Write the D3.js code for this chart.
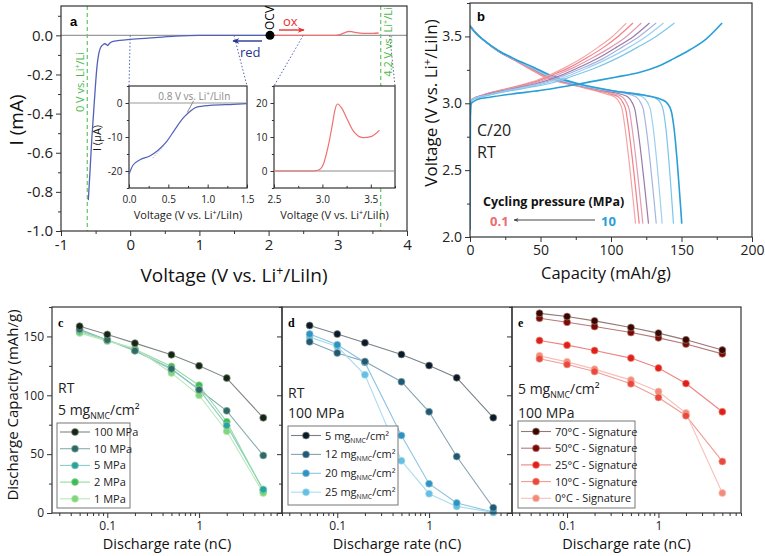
<!DOCTYPE html>
<html><head><meta charset="utf-8">
<script src="https://cdn.jsdelivr.net/npm/d3@7"></script>
<style>body{margin:0;background:#fff} svg{display:block}</style>
</head><body><svg id="fig" width="765" height="556"></svg>
<script>
// ---------------- DATA ----------------
// Panel a: main CV (V vs Li+/LiIn, mA)
const cvReduction = [[-0.605,-0.842],[-0.58,-0.69],[-0.555,-0.53],[-0.53,-0.4],[-0.505,-0.27],[-0.48,-0.16],[-0.455,-0.095],[-0.43,-0.064],[-0.40,-0.05],[-0.37,-0.043],[-0.345,-0.046],[-0.325,-0.052],[-0.30,-0.042],[-0.26,-0.032],[-0.15,-0.026],[0,-0.021],[0.36,-0.012],[0.65,-0.004],[0.85,-0.001],[1.0,0],[2.02,0]];
const cvOxidation = [[2.02,0],[2.9,0],[2.96,0.0003],[3.01,0.002],[3.06,0.0073],[3.1,0.0132],[3.13,0.018],[3.155,0.0197],[3.2,0.0185],[3.25,0.0156],[3.32,0.0117],[3.42,0.0098],[3.51,0.0102],[3.59,0.012]];
const ocvVoltage = 2.02;
const liRefLines = [-0.62, 3.62];
// Panel a insets (µA)
const insetReduction = [[0,-21],[0.05,-18.3],[0.14,-16.7],[0.27,-15.5],[0.37,-13.9],[0.48,-11.3],[0.58,-7.9],[0.69,-4.4],[0.775,-2.5],[0.86,-1.2],[1.03,-0.7],[1.33,-0.4],[1.5,-0.2]];
const insetOxidation = [[2.5,0],[2.9,0],[2.96,0.3],[3.01,2],[3.06,7.3],[3.1,13.2],[3.13,18],[3.155,19.7],[3.2,18.5],[3.25,15.6],[3.32,11.7],[3.42,9.8],[3.51,10.2],[3.59,12.0]];

// Panel b: charge / discharge curves (mAh/g, V), 0.1 MPa -> 10 MPa
const bColors = ["#f6a5a7","#f08186","#e49cb2","#9c7aa8","#a8b4e0","#9dd0ef","#7cc6ec","#2a9ed6"];
const dischargeCurves = [
 [[0,3.585],[4,3.53],[10,3.47],[20,3.39],[32,3.32],[45,3.24],[55,3.185],[67,3.15],[79,3.12],[90,3.09],[98,3.065],[103,3.045],[106,3.005],[108,2.95],[109.5,2.85],[117.4,2.1]],
 [[0,3.585],[4,3.53],[10,3.47],[20,3.39],[32,3.32],[45,3.245],[55,3.19],[67,3.153],[79,3.123],[91,3.093],[100.5,3.067],[105.5,3.046],[108.5,3.005],[110.5,2.95],[112,2.85],[120,2.1]],
 [[0,3.585],[4,3.53],[10,3.47],[20,3.39],[32,3.323],[45,3.25],[55,3.195],[67,3.156],[79,3.126],[93,3.094],[103,3.068],[108,3.047],[111,3.005],[113,2.95],[114.5,2.85],[122.6,2.1]],
 [[0,3.583],[4,3.528],[10,3.47],[20,3.391],[32,3.324],[45,3.255],[55,3.2],[67,3.16],[79,3.129],[95,3.095],[107,3.068],[112,3.047],[115,3.005],[117,2.95],[118.5,2.85],[126.6,2.1]],
 [[0,3.582],[4,3.527],[10,3.47],[20,3.392],[32,3.326],[45,3.258],[55,3.205],[67,3.163],[79,3.131],[98,3.095],[113,3.066],[118,3.046],[121,3.005],[123,2.95],[124.5,2.85],[132.1,2.1]],
 [[0,3.58],[4,3.526],[10,3.47],[20,3.393],[32,3.327],[45,3.262],[55,3.21],[67,3.167],[79,3.134],[100,3.095],[118,3.063],[123,3.044],[126,3.005],[128,2.95],[129.5,2.85],[136.3,2.1]],
 [[0,3.578],[4,3.525],[10,3.47],[20,3.394],[32,3.329],[45,3.266],[55,3.215],[67,3.171],[79,3.137],[102,3.093],[125,3.06],[131,3.042],[135,3.005],[137,2.95],[138.5,2.85],[144.3,2.1]],
 [[0,3.575],[4,3.525],[10,3.47],[20,3.395],[32,3.33],[45,3.27],[55,3.22],[67,3.175],[79,3.14],[103,3.09],[126,3.055],[134,3.035],[139,3.01],[141.5,2.975],[143,2.93],[144.5,2.83],[150.2,2.1]]
];
const chargeCurves = [
 [[0,2.98],[1.5,3.03],[10,3.065],[20,3.095],[32,3.125],[44,3.16],[56,3.21],[67,3.265],[79,3.335],[91,3.42],[101,3.5],[110.8,3.6]],
 [[0,2.98],[1.5,3.03],[10,3.065],[21,3.095],[33,3.125],[46,3.16],[58,3.21],[70,3.265],[82,3.335],[95,3.42],[105,3.5],[115.6,3.6]],
 [[0,2.98],[1.5,3.03],[11,3.065],[22,3.095],[35,3.125],[48,3.16],[61,3.21],[73,3.265],[86,3.335],[100,3.42],[111,3.5],[121.5,3.6]],
 [[0,2.98],[1.5,3.03],[11,3.063],[23,3.093],[37,3.123],[51,3.158],[64,3.207],[76,3.262],[90,3.333],[104,3.42],[116,3.5],[127.3,3.6]],
 [[0,2.98],[1.5,3.03],[12,3.062],[24,3.092],[38,3.122],[53,3.157],[66,3.205],[79,3.26],[94,3.332],[108,3.42],[120,3.5],[132,3.6]],
 [[0,2.98],[1.5,3.028],[12,3.06],[25,3.09],[40,3.12],[55,3.155],[69,3.202],[82,3.258],[97,3.33],[113,3.42],[125,3.5],[137.3,3.6]],
 [[0,2.98],[1.5,3.025],[13,3.058],[26,3.088],[42,3.118],[58,3.152],[72,3.2],[87,3.256],[103,3.33],[119,3.42],[132,3.5],[145,3.6]],
 [[0,2.05],[0.3,2.9],[1,3.0],[5,3.028],[14,3.045],[30,3.07],[49.5,3.095],[67,3.125],[85,3.16],[103,3.195],[120,3.23],[133,3.275],[143.8,3.33],[156,3.4],[167.4,3.48],[178.8,3.6]]
];

// Panels c-e: discharge capacity vs rate
const rates = [0.05, 0.1, 0.2, 0.5, 1, 2, 5];
const cNames = ["100 MPa","10 MPa","5 MPa","2 MPa","1 MPa"];
const cColors = ["#14261c","#2c6a6a","#2aa3a0","#3dbb5a","#7fd67f"];
const c100 = [158.7,151.7,144.3,134.4,125,114.6,80.9];
const c10  = [156,147,137.8,122.5,104.7,86.8,48.9];
const c5   = [155,147,138,122,105,74.4,20];
const c2   = [154,147,139,124.5,108.5,77.5,19];
const c1   = [153,146,140,119,100,69.5,17];
const dLoadings = ["5","12","20","25"];
const dColors = ["#0a1a2a","#1f5878","#2c93c8","#62bfe8"];
const d5  = [159.3,152,144.6,134.7,125.3,114.9,81];
const d12 = [145.4,136,128.7,111.5,86,48,4.5];
const d20 = [152,142.9,127.9,65.9,24.9,8.5,0.8];
const d25 = [149.4,141.4,117.4,44.4,16.4,5.6,0.5];
const eNames = ["70°C - Signature","50°C - Signature","25°C - Signature","10°C - Signature","0°C - Signature"];
const eColors = ["#3a0505","#7a0a0a","#e01e1e","#e8483f","#f28a80"];
const e70 = [169.6,166.9,163.2,157.6,152.8,147.1,138.4];
const e50 = [165.5,162.1,158.4,153.3,148.8,143.5,135.2];
const e25 = [146.5,142.6,138,131.6,123.1,110,86];
const e10 = [131,126.2,120.2,109.8,98.1,82.6,43.8];
const e0  = [133.5,128.4,122.2,112.9,103.2,84.9,17];

// ---------------- DRAWING ----------------
const FONT = '"Open Sans", "Liberation Sans", Arial, sans-serif';
const AX = "#333";
const svg = d3.select("#fig").attr("font-family", FONT);
svg.append("rect").attr("width",765).attr("height",556).attr("fill","#fff");
const defs = svg.append("defs");
function arrowMarker(id, color){
  defs.append("marker").attr("id",id).attr("viewBox","0 0 10 10").attr("refX",9).attr("refY",5)
    .attr("markerWidth",5).attr("markerHeight",5).attr("orient","auto")
    .append("path").attr("d","M0,1L10,5L0,9L3,5z").attr("fill",color);
}
arrowMarker("arNavy","#2a3590"); arrowMarker("arRed","#e83030"); arrowMarker("arGray","#444");
let clipN = 0;
function clip(x0,y0,x1,y1){ const id="cp"+(clipN++); defs.append("clipPath").attr("id",id).append("rect").attr("x",x0).attr("y",y0).attr("width",x1-x0).attr("height",y1-y0); return "url(#"+id+")"; }

function axisG(gen, tx, ty, fs){
  const g = svg.append("g").attr("transform",`translate(${tx},${ty})`).call(gen);
  g.select(".domain").remove();
  g.selectAll("line").attr("stroke",AX).attr("stroke-width",1);
  g.selectAll("text").attr("font-size",fs).attr("font-family",FONT).attr("fill","#222");
  return g;
}
function addAxes(xs, ys, o){
  const [x0,x1] = xs.range(), [y0,y1] = ys.range(); // y0 bottom
  if(o.xMajor){
    axisG(d3.axisBottom(xs).tickValues(o.xMajor).tickSize(o.xIn? -o.tk : o.tk).tickPadding(o.xIn? o.tk+4 : 3).tickFormat(o.xFmt), 0, y0, o.fs);
    if(o.xMinor) axisG(d3.axisBottom(xs).tickValues(o.xMinor).tickSize(o.xIn? -o.tk*0.6 : o.tk*0.6).tickFormat(""), 0, y0, o.fs);
  }
  if(o.yMajor){
    axisG(d3.axisLeft(ys).tickValues(o.yMajor).tickSize(o.tk).tickPadding(3).tickFormat(o.yFmt), x0, 0, o.fs);
    if(o.yMinor) axisG(d3.axisLeft(ys).tickValues(o.yMinor).tickSize(o.tk*0.6).tickFormat(""), x0, 0, o.fs);
  }
}
function frame(x0,y0,x1,y1,fill){
  svg.append("rect").attr("x",x0).attr("y",y0).attr("width",x1-x0).attr("height",y1-y0)
    .attr("fill",fill||"none").attr("stroke",AX).attr("stroke-width",1.2);
}
function rot(x,y,txt,fs,color,weight){
  return svg.append("text").attr("transform",`translate(${x},${y}) rotate(-90)`).attr("text-anchor","middle")
    .attr("font-size",fs).attr("fill",color||"#111").attr("font-weight",weight||"normal");
}
function liText(t, pre, post, fs){
  t.append("tspan").text(pre);
  t.append("tspan").attr("font-size",fs*0.65).attr("dy",-fs*0.38).text("+");
  t.append("tspan").attr("dy",fs*0.38).text(post);
}
function fixMinus(){
  svg.selectAll("text").filter(function(){return this.textContent.startsWith("−");}).text(function(){return this.textContent.replace("−","-");});
}

// ===== Panel a =====
const ax = d3.scaleLinear().domain([-1,4]).range([61,407]);
const ay = d3.scaleLinear().domain([-1,0.15]).range([231,6]);
addAxes(ax, ay, {fs:15, tk:5,
  xMajor:[-1,0,1,2,3,4], xMinor:[-0.5,0.5,1.5,2.5,3.5], xFmt:d3.format("d"),
  yMajor:[-1,-0.8,-0.6,-0.4,-0.2,0], yMinor:[-0.9,-0.7,-0.5,-0.3,-0.1,0.1], yFmt:d=>d.toFixed(1)});
fixMinus();
const aClip = clip(61,6,407,231);
const ga = svg.append("g").attr("clip-path",aClip);
ga.append("line").attr("x1",ax(-1)).attr("x2",ax(4)).attr("y1",ay(0)).attr("y2",ay(0)).attr("stroke","#9a9a9a").attr("stroke-width",1.3);
liRefLines.forEach(v=>ga.append("line").attr("x1",ax(v)).attr("x2",ax(v)).attr("y1",ay(0.15)).attr("y2",ay(-1))
  .attr("stroke","#62c862").attr("stroke-width",1.2).attr("stroke-dasharray","4,3"));
const lineA = d3.line().x(d=>ax(d[0])).y(d=>ay(d[1])).curve(d3.curveMonotoneX);
ga.append("path").attr("d",lineA(cvReduction)).attr("fill","none").attr("stroke","#5361b8").attr("stroke-width",1.3);
ga.append("path").attr("d",lineA(cvOxidation)).attr("fill","none").attr("stroke","#f07070").attr("stroke-width",1.3);
frame(61,6,407,231);
svg.append("text").attr("x",70).attr("y",26).attr("font-size",13).attr("font-weight","bold").attr("font-family","Liberation Sans, Arial").text("a");
liText(rot(84, 82, "", 11, "#4cb84c"), "0 V vs. Li", "/Li", 11);
liText(rot(392, 42, "", 11, "#4cb84c"), "4.2 V vs. Li", "/Li", 11);

// insets
const lx = d3.scaleLinear().domain([0,1.5]).range([129,247]);
const ly = d3.scaleLinear().domain([-25,5]).range([188,86]);
const rx = d3.scaleLinear().domain([2.5,3.75]).range([274,395]);
const ry = d3.scaleLinear().domain([-5,25]).range([188,86]);
const conn = [[ax(0),ay(0),lx(0),ly(5),"#5361b8"],[ax(1.5),ay(0),lx(1.5),ly(5),"#5361b8"],[ax(2.5),ay(0),rx(2.5),ry(25),"#5361b8"],[ax(3.75),ay(0),rx(3.75),ry(25),"#666"]];
conn.forEach(c=>svg.append("line").attr("x1",c[0]).attr("y1",c[1]).attr("x2",c[2]).attr("y2",c[3]).attr("stroke",c[4]).attr("stroke-width",1).attr("stroke-dasharray","1.5,2"));
frame(129,86,247,188,"#fff");
frame(274,86,395,188,"#fff");
addAxes(lx, ly, {fs:10, tk:3.5, xIn:true, xMajor:[0,0.5,1,1.5], xMinor:[0.25,0.75,1.25], xFmt:d3.format(".1f"),
  yMajor:[-20,-10,0], yMinor:[-25,-15,-5,5], yFmt:d3.format("d")});
addAxes(rx, ry, {fs:10, tk:3.5, xIn:true, xMajor:[2.5,3,3.5], xMinor:[2.75,3.25,3.75], xFmt:d3.format(".1f"),
  yMajor:[0,10,20], yMinor:[-5,5,15,25], yFmt:d3.format("d")});
fixMinus();
const gl = svg.append("g").attr("clip-path",clip(129,86,247,188));
gl.append("line").attr("x1",lx(0)).attr("x2",lx(1.5)).attr("y1",ly(0)).attr("y2",ly(0)).attr("stroke","#9a9a9a").attr("stroke-width",1.2);
gl.append("path").attr("d",d3.line().x(d=>lx(d[0])).y(d=>ly(d[1])).curve(d3.curveMonotoneX)(insetReduction)).attr("fill","none").attr("stroke","#5361b8").attr("stroke-width",1.2);
gl.append("line").attr("x1",lx(0.3)).attr("y1",ly(-16.2)).attr("x2",lx(0.44)).attr("y2",ly(-12.8)).attr("stroke","#a8b4e4").attr("stroke-width",1).attr("stroke-dasharray","1.5,1.5");
gl.append("line").attr("x1",lx(0.82)).attr("y1",ly(0.6)).attr("x2",lx(0.74)).attr("y2",ly(-2.8)).attr("stroke","#888").attr("stroke-width",1);
const t08 = svg.append("text").attr("x",lx(0.83)).attr("y",100).attr("text-anchor","middle").attr("font-size",10).attr("fill","#8a8a8a");
liText(t08, "0.8 V vs. Li", "/LiIn", 10);
const gr = svg.append("g").attr("clip-path",clip(274,86,395,188));
gr.append("line").attr("x1",rx(2.5)).attr("x2",rx(3.75)).attr("y1",ry(0)).attr("y2",ry(0)).attr("stroke","#8a8a8a").attr("stroke-width",1.2);
gr.append("path").attr("d",d3.line().x(d=>rx(d[0])).y(d=>ry(d[1])).curve(d3.curveMonotoneX)(insetOxidation)).attr("fill","none").attr("stroke","#f07070").attr("stroke-width",1.2);
[[lx,188],[rx,334.5]].forEach(([s,cx])=>{
  const t = svg.append("text").attr("x",cx).attr("y",219).attr("text-anchor","middle").attr("font-size",11).attr("fill","#222");
  liText(t, "Voltage (V vs. Li", "/LiIn)", 11);
});
rot(101,138,"",11,"#111").text("I (µA)");
svg.append("circle").attr("cx",ax(ocvVoltage)).attr("cy",ay(0)).attr("r",4.5).attr("fill","#000");
rot(ax(ocvVoltage)+4.5, 18, "", 12, "#000").text("OCV");
svg.append("line").attr("x1",262).attr("y1",41).attr("x2",233).attr("y2",41).attr("stroke","#2a3590").attr("stroke-width",1.4).attr("marker-end","url(#arNavy)");
svg.append("text").attr("x",240).attr("y",57).attr("font-size",13).attr("fill","#2a3590").text("red");
svg.append("line").attr("x1",279).attr("y1",30).attr("x2",304).attr("y2",30).attr("stroke","#e83030").attr("stroke-width",1.4).attr("marker-end","url(#arRed)");
svg.append("text").attr("x",283).attr("y",26).attr("font-size",13).attr("fill","#e83030").text("ox");
liText(svg.append("text").attr("x",234).attr("y",282).attr("text-anchor","middle").attr("font-size",19).attr("fill","#111"), "Voltage (V vs. Li", "/LiIn)", 19);
rot(23,120,"",19,"#111").text("I (mA)");

// ===== Panel b =====
const bx = d3.scaleLinear().domain([0,200]).range([470,752]);
const by = d3.scaleLinear().domain([2,3.75]).range([237,3]);
addAxes(bx, by, {fs:14, tk:5, xMajor:[0,50,100,150,200], xMinor:[25,75,125,175], xFmt:d3.format("d"),
  yMajor:[2,2.5,3,3.5], yMinor:[2.25,2.75,3.25,3.75], yFmt:d3.format(".1f")});
const gb = svg.append("g").attr("clip-path",clip(470,3,752,237));
const lineB = d3.line().x(d=>bx(d[0])).y(d=>by(d[1])).curve(d3.curveMonotoneX);
dischargeCurves.forEach((c,i)=>gb.append("path").attr("d",lineB(c)).attr("fill","none").attr("stroke",bColors[i]).attr("stroke-width",i==7?1.6:1.2));
chargeCurves.forEach((c,i)=>gb.append("path").attr("d",lineB(c)).attr("fill","none").attr("stroke",bColors[i]).attr("stroke-width",i==7?1.6:1.2));
frame(470,3,752,237);
svg.append("text").attr("x",477).attr("y",21).attr("font-size",13).attr("font-weight","bold").attr("font-family","Liberation Sans, Arial").text("b");
svg.append("text").attr("x",477).attr("y",136).attr("font-size",16).attr("fill","#222").text("C/20");
svg.append("text").attr("x",477).attr("y",158).attr("font-size",16).attr("fill","#222").text("RT");
svg.append("text").attr("x",483).attr("y",206).attr("font-size",12.5).attr("font-weight","bold").attr("fill","#111").text("Cycling pressure (MPa)");
svg.append("text").attr("x",490).attr("y",226).attr("font-size",13).attr("font-weight","bold").attr("fill","#ee6b6e").text("0.1");
svg.append("text").attr("x",601).attr("y",226).attr("font-size",13).attr("font-weight","bold").attr("fill","#2a9ed6").text("10");
svg.append("line").attr("x1",595).attr("y1",220).attr("x2",514).attr("y2",220).attr("stroke","#444").attr("stroke-width",1).attr("marker-end","url(#arGray)");
liText(rot(437,103,"",17,"#111"), "Voltage (V vs. Li", "/LiIn)", 17);
svg.append("text").attr("x",606).attr("y",279).attr("text-anchor","middle").attr("font-size",16.5).attr("fill","#111").text("Capacity (mAh/g)");

// ===== Panels c, d, e =====
const ry2 = d3.scaleLinear().domain([0,175]).range([513,307]);
const minorRates = [0.03,0.04,0.05,0.06,0.07,0.08,0.09,0.2,0.3,0.4,0.5,0.6,0.7,0.8,0.9,2,3,4,5,6,7,8];
function mgLabel(t, n, fs){
  t.append("tspan").text(n+" mg");
  t.append("tspan").attr("font-size",fs*0.62).attr("dy",fs*0.28).text("NMC");
  t.append("tspan").attr("dy",-fs*0.28).text("/cm²");
}
function ratePanel(x0, x1, series, colors, labels, mg, letter, notes, leg){
  const xs = d3.scaleLog().domain([0.025,8]).range([x0,x1]);
  addAxes(xs, ry2, {fs:12, tk:5, xMajor:[0.1,1], xMinor:minorRates, xFmt:d=>d===0.1?"0.1":"1",
    yMajor:[0,50,100,150], yMinor:[25,75,125,175], yFmt:(x0<100? d3.format("d") : ()=>"")});
  const g = svg.append("g").attr("clip-path",clip(x0-6,300,x1+6,518));
  series.forEach((s,i)=>{
    const pts = rates.map((r,k)=>[r,s[k]]);
    const lc = d3.interpolateRgb(colors[i],"#ffffff")(0.45);
    g.append("path").attr("d",d3.line().x(d=>xs(d[0])).y(d=>ry2(d[1]))(pts)).attr("fill","none").attr("stroke",lc).attr("stroke-width",1.1);
  });
  series.slice().reverse().forEach((s,ri)=>{
    const i = series.length-1-ri;
    g.selectAll(null).data(rates.map((r,k)=>[r,s[k]])).join("circle")
      .attr("cx",d=>xs(d[0])).attr("cy",d=>ry2(d[1])).attr("r",3.5)
      .attr("fill",colors[i]).attr("stroke",d3.interpolateRgb(colors[i],"#ffffcc")(0.5)).attr("stroke-width",0.7);
  });
  frame(x0,307,x1,513);
  svg.append("text").attr("x",x0+6).attr("y",327).attr("font-size",12).attr("font-weight","bold").attr("font-family","Liberation Serif, serif").text(letter);
  notes.forEach(n=>{
    const t = svg.append("text").attr("x",x0+6).attr("y",n.y).attr("font-size",14).attr("fill","#222");
    if(n.mg) mgLabel(t,"5",14); else t.text(n.t);
  });
  svg.append("rect").attr("x",leg.x0).attr("y",leg.y0).attr("width",leg.x1-leg.x0).attr("height",leg.y1-leg.y0)
    .attr("fill","#fff").attr("stroke","#777").attr("stroke-width",1);
  series.forEach((s,i)=>{
    const yy = leg.y0 + leg.pad + i*leg.step;
    svg.append("line").attr("x1",leg.x0+3).attr("x2",leg.x0+33).attr("y1",yy).attr("y2",yy).attr("stroke",d3.interpolateRgb(colors[i],"#ffffff")(0.45)).attr("stroke-width",1.1);
    svg.append("circle").attr("cx",leg.x0+18).attr("cy",yy).attr("r",3.5).attr("fill",colors[i]).attr("stroke",d3.interpolateRgb(colors[i],"#ffffcc")(0.5)).attr("stroke-width",0.7);
    const t = svg.append("text").attr("x",leg.x0+37).attr("y",yy+4).attr("font-size",leg.fs).attr("fill","#222");
    if(mg) mgLabel(t, labels[i], leg.fs); else t.text(labels[i]);
  });
  svg.append("text").attr("x",(x0+x1)/2).attr("y",549).attr("text-anchor","middle").attr("font-size",14.5).attr("fill","#111").text("Discharge rate (nC)");
}
ratePanel(52, 282, [c100,c10,c5,c2,c1], cColors, cNames, false, "c",
  [{t:"RT",y:393},{mg:true,y:415}], {x0:57,y0:423,x1:130,y1:508,pad:9,step:16.7,fs:11});
ratePanel(282, 512, [d5,d12,d20,d25], dColors, dLoadings, true, "d",
  [{t:"RT",y:398},{t:"100 MPa",y:418}], {x0:288,y0:426,x1:398,y1:505,pad:9.5,step:18.9,fs:11});
ratePanel(512, 741, [e70,e50,e25,e10,e0], eColors, eNames, false, "e",
  [{mg:true,y:394},{t:"100 MPa",y:418}], {x0:518,y0:421,x1:635,y1:508,pad:10.5,step:16.7,fs:11});
rot(18,405,"",15,"#111").text("Discharge Capacity (mAh/g)");
</script></body></html>
